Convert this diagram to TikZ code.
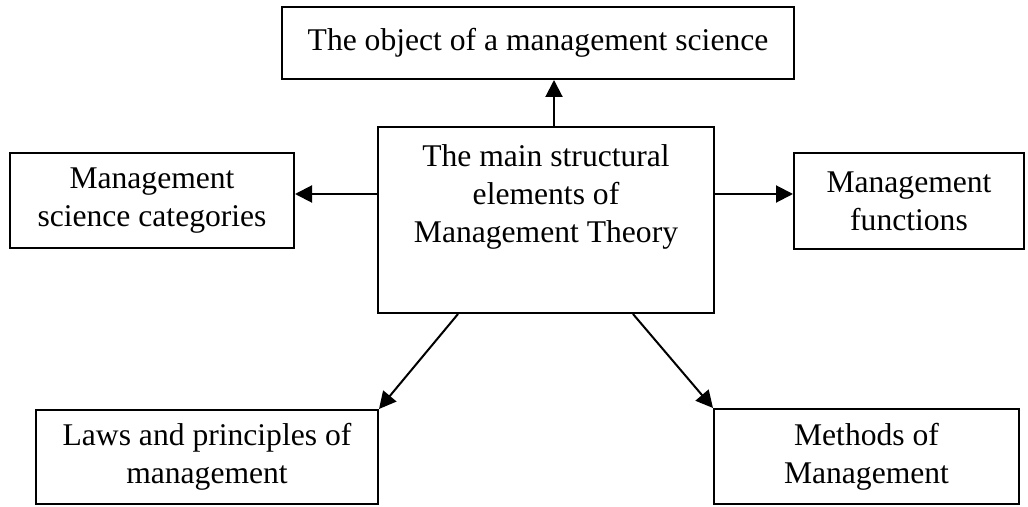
\documentclass[tikz,border=0pt]{standalone}
\usepackage{fontspec}
\setmainfont{Liberation Serif}
\usetikzlibrary{arrows.meta}
\begin{document}
\begin{tikzpicture}[x=1pt,y=1pt,
  box/.style={draw=black, line width=2pt, rectangle, inner sep=0pt,
    align=center, font=\fontsize{31.6}{38}\selectfont},
  label text/.style={inner sep=0pt, align=center, font=\fontsize{31.6}{38}\selectfont},
  arr/.style={draw=black, line width=2pt, -{Triangle[length=17pt,width=17pt]}}]
  \useasboundingbox[fill=white] (0,0) rectangle (1028,506);

  % boxes
  \node[box, minimum width=512, minimum height=72] (top) at (538,463)
    {The object of a management science};
  \node[box, minimum width=336, minimum height=186] (main) at (546,286) {};
  \node[label text, anchor=north] (maintext) at ([yshift=-18.5pt]main.north)
    {The main structural\\elements of\\Management Theory};
  \node[box, minimum width=284, minimum height=95] (left) at (152,305.5)
    {Management\\science categories};
  \node[box, minimum width=230, minimum height=96] (right) at (909,305)
    {Management\\functions};
  \node[box, minimum width=342, minimum height=94] (bl) at (207,49)
    {Laws and principles of\\management};
  \node[box, minimum width=305, minimum height=95] (br) at (866.5,49.5)
    {Methods of\\Management};

  % connectors
  \draw[arr] ([xshift=8pt]main.north) -- ([xshift=8pt]main.north |- top.south);
  \draw[arr] ([yshift=26pt]main.west) -- ([yshift=26pt]main.west -| left.east);
  \draw[arr] ([yshift=26pt]main.east) -- ([yshift=26pt]main.east -| right.west);
  \draw[arr] ([xshift=-88pt]main.south) -- (bl.north east);
  \draw[arr] ([xshift=87pt]main.south) -- (br.north west);
\end{tikzpicture}
\end{document}
